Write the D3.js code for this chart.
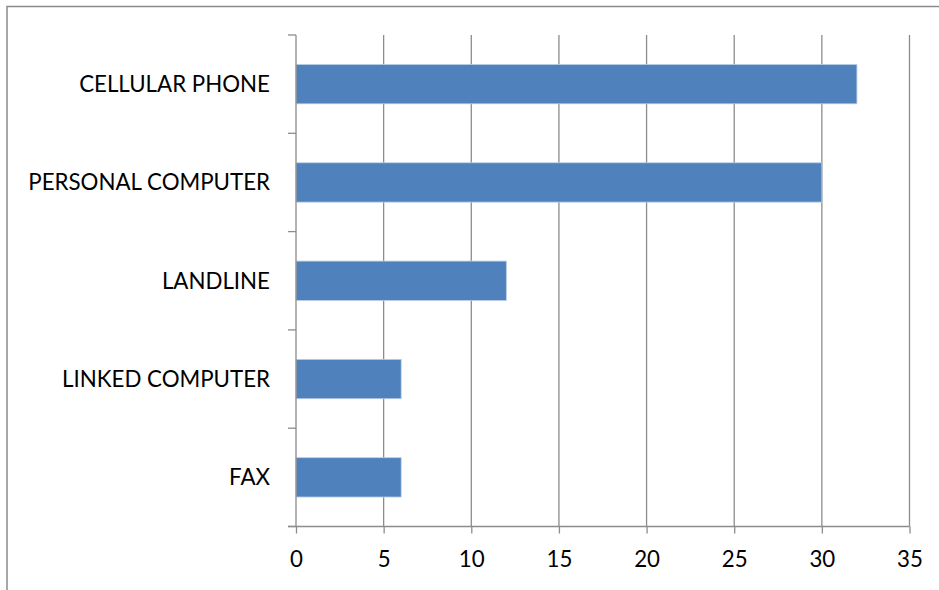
<!DOCTYPE html>
<html>
<head>
<meta charset="utf-8">
<script src="https://cdn.jsdelivr.net/npm/d3@7"></script>
<style>
  html, body { margin: 0; padding: 0; background: #fff; }
  svg { display: block; }
  text { font-family: Lato, "Liberation Sans", Arial, sans-serif; fill: #000; }
</style>
</head>
<body>
<svg id="chart" width="939" height="590"></svg>
<script>
// Device counts by category (top to bottom)
const categories = ["CELLULAR PHONE", "PERSONAL COMPUTER", "LANDLINE", "LINKED COMPUTER", "FAX"];
const values = [32, 30, 12, 6, 6];
const xTicks = [0, 5, 10, 15, 20, 25, 30, 35];

const svg = d3.select("#chart");
const W = 939, H = 590;
const plot = { left: 296, right: 909.5, top: 35, bottom: 526.5 };
const gridColor = "#8c8c8c";
const barColor = "#4f81bd";
const fontFamily = "Lato, 'Liberation Sans', Arial, sans-serif";
const fontSize = 22.3;

// Outer chart frame
svg.append("rect")
  .attr("x", 7).attr("y", 6.5)
  .attr("width", W).attr("height", H)
  .attr("fill", "none").attr("stroke", "#8a8a8a").attr("stroke-width", 1.5);

const x = d3.scaleLinear().domain([0, 35]).range([plot.left, plot.right]);
const y = d3.scaleBand().domain(categories).range([plot.top, plot.bottom]).paddingInner(0.6).paddingOuter(0.3);

// Vertical gridlines
svg.append("g").selectAll("line")
  .data(xTicks.filter(t => t > 0))
  .join("line")
  .attr("x1", d => x(d)).attr("x2", d => x(d))
  .attr("y1", plot.top).attr("y2", plot.bottom)
  .attr("stroke", gridColor).attr("stroke-width", 1.3);

// Bars
svg.append("g").selectAll("rect")
  .data(categories.map((c, i) => ({ c, v: values[i] })))
  .join("rect")
  .attr("x", x(0))
  .attr("y", d => y(d.c))
  .attr("width", d => x(d.v) - x(0))
  .attr("height", y.bandwidth())
  .attr("fill", barColor)
  .attr("stroke", "#b9cde5").attr("stroke-width", 0.8);

// Bottom axis
const xAxis = d3.axisBottom(x).tickValues(xTicks).tickSize(7).tickPadding(18);
const gx = svg.append("g").attr("transform", `translate(0,${plot.bottom})`).call(xAxis);
gx.select(".domain").attr("d", `M${plot.left - 8},0H${plot.right}`).attr("stroke", gridColor).attr("stroke-width", 1.3);
gx.selectAll(".tick line").attr("stroke", gridColor).attr("stroke-width", 1.3);
gx.selectAll(".tick text").attr("font-size", fontSize).attr("font-family", fontFamily).attr("fill", "#000");

// Left axis with ticks between categories
const gy = svg.append("g");
gy.append("line")
  .attr("x1", plot.left).attr("x2", plot.left)
  .attr("y1", plot.top).attr("y2", plot.bottom)
  .attr("stroke", gridColor).attr("stroke-width", 1.3);
const step = (plot.bottom - plot.top) / categories.length;
gy.selectAll("line.tk")
  .data(d3.range(categories.length + 1))
  .join("line").attr("class", "tk")
  .attr("x1", plot.left - 8).attr("x2", plot.left)
  .attr("y1", i => plot.top + i * step).attr("y2", i => plot.top + i * step)
  .attr("stroke", gridColor).attr("stroke-width", 1.3);
gy.selectAll("text")
  .data(categories)
  .join("text")
  .attr("x", plot.left - 26)
  .attr("y", d => y(d) + y.bandwidth() / 2)
  .attr("dy", "0.36em")
  .attr("text-anchor", "end")
  .attr("font-size", fontSize)
  .text(d => d);
</script>
</body>
</html>
